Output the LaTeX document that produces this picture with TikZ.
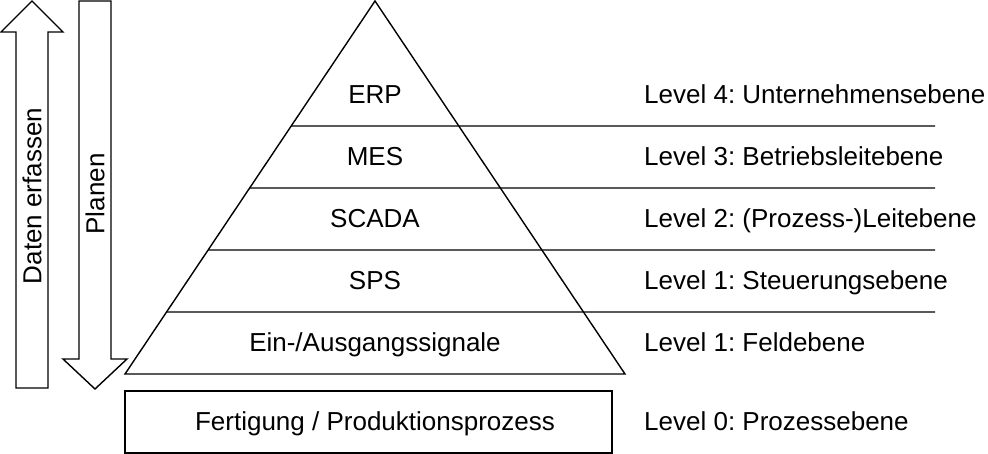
\documentclass[tikz,border=0pt]{standalone}
\usepackage{fontspec}
\setmainfont{Liberation Sans}
\usetikzlibrary{calc}
\frenchspacing
\begin{document}
\begin{tikzpicture}[x=1pt,y=-1pt,
  outline/.style={draw=black,line width=1.4pt,line join=miter},
  txt/.style={inner sep=0pt,font=\fontsize{26}{30}\selectfont},
  lbl/.style={txt,anchor=base},
  lvl/.style={txt,anchor=base west}]
\useasboundingbox (0,0) rectangle (988,454);

% hollow arrows: data acquisition (up) and planning (down)
\draw[outline] (16,388) -- (16,32) -- (1,32) -- (32,1) -- (63,32) -- (48,32) -- (48,388) -- cycle;
\draw[outline] (79,1) -- (79,359) -- (63,359) -- (95,389) -- (127,359) -- (111,359) -- (111,1) -- cycle;
\node[txt,rotate=90] (daten) at (32,196) {Daten erfassen};
\node[txt,rotate=90] (planen) at (95,194) {Planen};

% automation pyramid
\coordinate (apex) at (375,1);
\coordinate (bl) at (125,374);
\coordinate (br) at (625,374);
\draw[outline] (apex) -- (bl) -- (br) -- cycle;

% level separators, running from the left flank out to the right
\foreach \yy/\nm in {126/s4,188/s3,250/s2,312/s1}{
  \coordinate (\nm) at ($(apex)!{(\yy-1)/373}!(bl)$);
  \coordinate (\nm e) at (935,\yy);
  \draw[outline] (\nm) -- (\nm e);
}

\node[lbl] (erp) at (375,104) {ERP};
\node[lbl] (mes) at (375,166) {MES};
\node[lbl] (scada) at (375,228) {SCADA};
\node[lbl] (sps) at (375,290) {SPS};
\node[lbl] (io) at (375,352) {Ein-/Ausgangssignale};

% process box underneath
\node[outline,minimum width=487pt,minimum height=62pt,inner sep=0pt] (proc) at (368.5,422) {};
\node[lbl] (proct) at (375,430) {Fertigung / Produktionsprozess};

% level descriptions
\node[lvl] (l4) at (644,104) {Level 4: Unternehmensebene};
\node[lvl] (l3) at (644,166) {Level 3: Betriebsleitebene};
\node[lvl] (l2) at (644,228) {Level 2: (Prozess-)Leitebene};
\node[lvl] (l1a) at (644,290) {Level 1: Steuerungsebene};
\node[lvl] (l1b) at (644,352) {Level 1: Feldebene};
\node[lvl] (l0) at (644,430) {Level 0: Prozessebene};
\end{tikzpicture}
\end{document}
